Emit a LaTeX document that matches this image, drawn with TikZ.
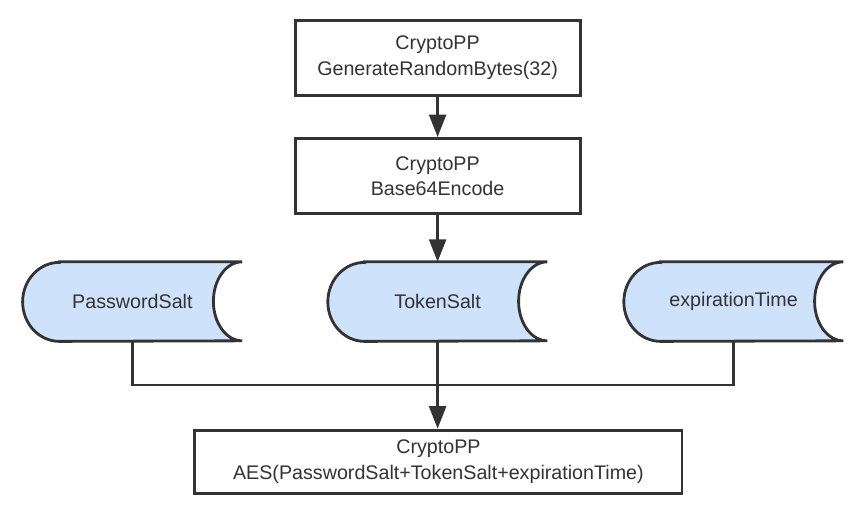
\documentclass[tikz,border=0pt]{standalone}
\usepackage{fontspec}
\setmainfont{Liberation Sans}
\usepackage{xcolor}
\usepackage{tikz}
\usetikzlibrary{arrows.meta,positioning,calc,backgrounds}
\definecolor{ink}{RGB}{51,51,51}
\definecolor{saltblue}{RGB}{207,226,251}
\tikzset{
  box/.style  ={rectangle,draw=ink,line width=2pt,fill=white,minimum width=7.125cm,minimum height=1.875cm,
                inner sep=0pt,align=center,text=ink,font=\fontsize{14}{18}\selectfont},
  salt/.style ={rectangle,minimum width=5.475cm,minimum height=1.975cm,inner sep=0pt,
                text=ink,font=\fontsize{14}{18}\selectfont},
  ln/.style   ={draw=ink,line width=2pt},
  ar/.style   ={ln,-{Triangle[length=16pt,width=12pt]}},
}
% stored-data outline drawn behind a salt node
\newcommand\saltshape[1]{%
  \begin{scope}[on background layer]
    \draw[ln,fill=saltblue] ([xshift=0.92cm]#1.north west) -- (#1.north east)
      arc[start angle=90,end angle=270,x radius=0.72cm,y radius=0.9875cm]
      -- ([xshift=0.92cm]#1.south west)
      arc[start angle=270,end angle=90,x radius=0.92cm,y radius=0.9875cm] -- cycle;
  \end{scope}}

\begin{document}
\begin{tikzpicture}
  \useasboundingbox (0,0) rectangle (21.6,-13.2);
  \node[box] (gen) at (10.94,-1.44){CryptoPP\\GenerateRandomBytes(32)};
  \node[box] (enc) at (10.94,-4.4){CryptoPP\\Base64Encode};
  \node[salt] (pw)  at (3.31,-7.54){PasswordSalt};
  \node[salt] (tok) at (10.94,-7.54){TokenSalt};
  \node[salt] (exp) at (18.34,-7.54){expirationTime};
  \saltshape{pw}\saltshape{tok}\saltshape{exp}
  \node[box,minimum width=12.175cm,minimum height=1.575cm] (aes) at (10.96,-11.54)
    {CryptoPP\\AES(PasswordSalt+TokenSalt+expirationTime)};
  \coordinate (join) at (10.94,-9.625);
  \draw[ar] (gen) -- (enc);
  \draw[ar] (enc) -- (tok);
  \draw[ln] (pw.south) |- (join);
  \draw[ln] (exp.south) |- (join);
  \draw[ar] (tok.south) -- (tok.south |- aes.north);
\end{tikzpicture}
\end{document}
